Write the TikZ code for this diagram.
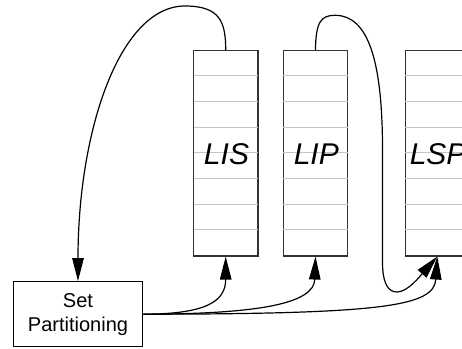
\documentclass[tikz,border=0pt]{standalone}
\usepackage{fontspec}
\setmainfont{Liberation Sans}
\usetikzlibrary{arrows.meta,calc}
\definecolor{boxline}{HTML}{333333}
\definecolor{cellgray}{HTML}{C4C4C4}
\tikzset{
  listbox/.style={draw=boxline, line width=1.2pt, fill=white, minimum width=64.4pt, minimum height=205.3pt, inner sep=0pt,
    font=\fontsize{30}{34}\selectfont\itshape},
  procbox/.style={draw=black, line width=1.2pt, fill=white, minimum width=129.4pt, minimum height=65pt, inner sep=0pt,
    align=center, font=\fontsize{20}{24}\selectfont},
  cellline/.style={draw=cellgray, line width=0.9pt},
  conn/.style={draw=black, line width=1.2pt, -{Triangle[length=23pt,width=11.5pt]}},
}
\begin{document}
\begin{tikzpicture}[x=1pt,y=-1pt]
\useasboundingbox (0,0) rectangle (462,348);
\clip (0,0) rectangle (462,348);
\fill[white] (0,0) rectangle (462,348);
\node[listbox] (LIS) at (225.7,153.3) {};
\node[listbox] (LIP) at (315.5,153.3) {};
\node[listbox] (LSP) at (437.3,153.3) {};
\foreach \b in {LIS,LIP,LSP}{
  \foreach \i in {1,...,7}{
    \draw[cellline] ($(\b.north west)+(0.7,\i*25.66)$) -- ($(\b.north east)+(-0.7,\i*25.66)$);
  }
}
\node[font=\fontsize{30}{34}\selectfont\itshape] (tLIS) at (226.5,154.5) {LIS};
\node[font=\fontsize{30}{34}\selectfont\itshape] (tLIP) at (316.3,154.5) {LIP};
\node[font=\fontsize{30}{34}\selectfont\itshape] (tLSP) at (438.1,154.5) {LSP};
\node[procbox] (SP) at (78,314.2) {\raisebox{-2.5pt}{Set}\\\raisebox{-2.5pt}{Partitioning}};
% feedback connectors
\draw[conn] (LIS.north) .. controls (225.7,22) and (220,6) .. (185,6)
  .. controls (120,6) and (78,130) .. (SP.north);
\draw[conn] (LIP.north) .. controls (315.7,22) and (321,15.3) .. (335,15.3)
  .. controls (368,15.3) and (382.5,60) .. (382.5,150) -- (382.5,262)
  .. controls (382.5,285) and (389,292) .. (397,292)
  .. controls (408,292) and (421,275) .. (LSP.south);
% outputs of set partitioning
\draw[conn] (SP.east) .. controls (205,314) and (225.7,302) .. (LIS.south);
\draw[conn] (SP.east) .. controls (262,314) and (314,303) .. (LIP.south);
\draw[conn] (SP.east) .. controls (385,314) and (434,306) .. (LSP.south);
\end{tikzpicture}
\end{document}
